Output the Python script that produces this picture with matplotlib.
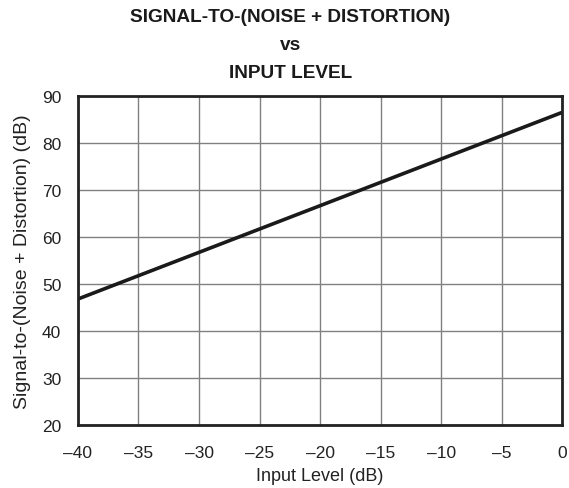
import matplotlib
matplotlib.use("Agg")
from matplotlib import pyplot as plt

plt.rcParams["font.family"] = ["Liberation Sans", "DejaVu Sans"]

# line endpoints
input_level = [-40, 0]
sinad = [46.8, 86.5]

x_ticks = [-40, -35, -30, -25, -20, -15, -10, -5, 0]
x_labels = ["\u201340", "\u201335", "\u201330", "\u201325", "\u201320",
            "\u201315", "\u201310", "\u20135", "0"]
y_ticks = [20, 30, 40, 50, 60, 70, 80, 90]

fig = plt.figure(figsize=(5.69, 4.89), dpi=100)
ax = fig.add_axes([0.137, 0.1288, 0.851, 0.673])

ax.plot(input_level, sinad, color="#1a1a1a", linewidth=2.6, solid_capstyle="butt")

ax.set_xlim(-40, 0)
ax.set_ylim(20, 90)
ax.set_xticks(x_ticks)
ax.set_xticklabels(x_labels)
ax.set_yticks(y_ticks)
ax.tick_params(length=0, labelsize=12.5, colors="#222222")
ax.tick_params(axis="x", pad=14.5)
ax.tick_params(axis="y", pad=12)
ax.grid(True, color="#808080", linewidth=1.0)
for s in ax.spines.values():
    s.set_linewidth(2.0)
    s.set_color("#222222")

ax.set_xlabel("Input Level (dB)", fontsize=13, color="#222222", labelpad=5)
ax.set_ylabel("Signal-to-(Noise + Distortion) (dB)", fontsize=14, color="#222222", labelpad=8)

fig.text(0.51, 0.981, "SIGNAL-TO-(NOISE + DISTORTION)\nvs\nINPUT LEVEL",
         ha="center", va="top", fontsize=13.7, fontweight="bold",
         linespacing=1.83, color="#1a1a1a")

fig.savefig("out.png", dpi=100)
